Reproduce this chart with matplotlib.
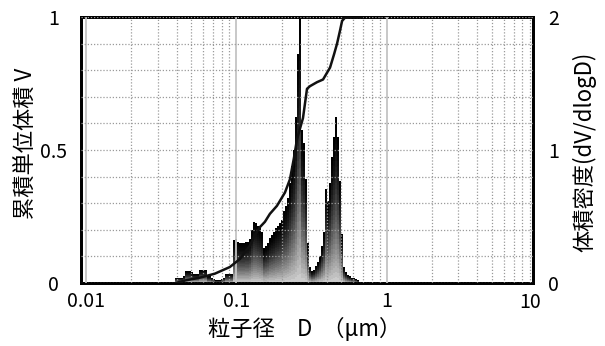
import numpy as np
import matplotlib
matplotlib.use("Agg")
import matplotlib.pyplot as plt
from matplotlib.ticker import FixedLocator, NullFormatter, LogLocator

plt.rcParams['font.family'] = ['Noto Sans CJK JP', 'DejaVu Sans']

# ---------------- data ----------------
# volume density histogram (dV/dlogD), log-spaced bins (75 bins per decade)
bin_start_um = 0.0389
bins_per_decade = 75
density = [0.04, 0.04, 0.04, 0.04, 0.05, 0.09, 0.09, 0.09, 0.08, 0.07,
           0.07, 0.07, 0.10, 0.10, 0.10, 0.10, 0.05, 0.05, 0.04, 0.03,
           0.02, 0.02, 0.02, 0.03, 0.04, 0.07, 0.07, 0.07, 0.07, 0.32,
           0.33, 0.31, 0.30, 0.30, 0.30, 0.31, 0.31, 0.33, 0.40, 0.46,
           0.45, 0.43, 0.41, 0.38, 0.26, 0.28, 0.30, 0.34, 0.36, 0.38,
           0.41, 0.43, 0.45, 0.47, 0.54, 0.58, 0.64, 0.75, 0.88, 1.00,
           1.25, 1.72, 2.00, 1.15, 1.05, 0.78, 0.30, 0.12, 0.09, 0.10,
           0.13, 0.16, 0.20, 0.28, 0.38, 0.71, 0.62, 0.75, 0.95, 1.10,
           1.25, 1.10, 0.77, 0.37, 0.12, 0.08, 0.06, 0.05, 0.04, 0.04,
           0.03, 0.02, 0.01]

# cumulative volume curve
cum_d = [0.0395, 0.0461, 0.0571, 0.0719, 0.0905, 0.1055, 0.1230, 0.1328,
         0.1434, 0.1549, 0.1672, 0.1862, 0.2105, 0.2273, 0.2416, 0.2531,
         0.2650, 0.2775, 0.2951, 0.3090, 0.3440, 0.3773, 0.4201, 0.4467,
         0.4677, 0.4898, 0.5050, 0.5288, 0.5710, 0.6866]
cum_v = [0.0, 0.01, 0.02, 0.035, 0.06, 0.09, 0.14, 0.18, 0.21, 0.23,
         0.26, 0.29, 0.34, 0.39, 0.47, 0.54, 0.58, 0.62, 0.73, 0.74,
         0.755, 0.765, 0.81, 0.86, 0.90, 0.95, 0.985, 0.998, 1.0, 1.0]

x_ticks = [0.01, 0.1, 1]
x_ticklabels = ['0.01', '0.1', '1']
x_last_label = '10'
left_ticks = [0, 0.5, 1]
left_ticklabels = ['0', '0.5', '1']
right_ticks = [0, 1, 2]
right_ticklabels = ['0', '1', '2']
xlabel = '粒子径\u3000D  （μm）'
left_label = '累積単位体積 V'
right_label = '体積密度(dV/dlogD)'

# ---------------- figure ----------------
W, H = 605, 346
fig = plt.figure(figsize=(W / 100, H / 100), dpi=100)
L, R, T, B = 81, 533, 17, 283
ax = fig.add_axes([L / W, 1 - B / H, (R - L) / W, (B - T) / H])  # histogram (right scale)
ax2 = ax.twinx()  # cumulative (left scale), drawn on top
ax2.xaxis.set_visible(True)

ax.set_xscale('log')
ax.set_xlim(10 ** (-2 - 5 / 150), 10 ** (1 - 4 / 150))
ax.set_ylim(0, 2)
ax2.set_ylim(0, 1)

# histogram bars with vertical gradient (light at base, black at top)
dens = np.array(density)
n = len(dens)
edges = bin_start_um * 10 ** (np.arange(n + 1) / bins_per_decade)
left_e = edges[:-1]
widths = edges[1:] - edges[:-1]
NLEV = 30
for j in range(NLEV):
    t = (j + 0.5) / NLEV
    g = 0.82 * (1 - t) ** 1.7
    ax.bar(left_e, dens / NLEV, width=widths, bottom=dens * j / NLEV,
           align='edge', color=(g, g, g), linewidth=0, antialiased=False,
           zorder=2)

# cumulative line
ax2.plot(cum_d, cum_v, color='#111111', lw=1.8, zorder=5)

# grid on top axes
ax2.yaxis.set_major_locator(FixedLocator(left_ticks))
ax2.yaxis.set_minor_locator(FixedLocator(np.round(np.arange(0.1, 1.0, 0.1), 2)))
ax2.grid(which='major', axis='y', ls=(0, (1, 1.5)), color='#9a9a9a', lw=0.9, zorder=3)
ax2.grid(which='minor', axis='y', ls=(0, (1, 1.5)), color='#9a9a9a', lw=0.9, zorder=3)
ax2.xaxis.set_major_locator(FixedLocator(x_ticks))
ax2.grid(which='major', axis='x', ls='-', color='#c4c4c4', lw=1.3, zorder=3)
ax2.xaxis.set_minor_locator(LogLocator(base=10, subs=np.arange(2, 10)))
ax2.xaxis.set_minor_formatter(NullFormatter())
ax2.grid(which='minor', axis='x', ls=(0, (1, 1.5)), color='#9a9a9a', lw=0.9, zorder=3)
ax2.set_axisbelow(False)
ax2.tick_params(axis='x', which='both', labelbottom=False, labeltop=False,
                bottom=False, top=False)

# y axes placement: left = cumulative, right = density
ax2.yaxis.tick_left()
ax2.yaxis.set_label_position('left')
ax.yaxis.tick_right()
ax.yaxis.set_label_position('right')

ax2.set_yticks(left_ticks)
ax2.set_yticklabels(left_ticklabels)
ax.set_yticks(right_ticks)
ax.set_yticklabels(right_ticklabels)
ax.set_xticks(x_ticks)
ax.set_xticklabels(x_ticklabels)
ax.xaxis.set_minor_formatter(NullFormatter())

for a in (ax, ax2):
    a.tick_params(which='both', length=0, labelsize=14)
    for s in a.spines.values():
        s.set_linewidth(2.0)
        s.set_color('black')

ax2.tick_params(axis='y', pad=20)
for lab in ax2.get_yticklabels():
    lab.set_ha('center')
ax.tick_params(axis='y', pad=15)
for lab in ax.get_yticklabels():
    lab.set_ha('center')
ax.tick_params(axis='x', pad=6)

ax.text((530 - L) / (R - L), -(302 - B) / (B - T), x_last_label, transform=ax.transAxes,
        ha='center', va='center', fontsize=14)

ax.set_xlabel(xlabel, fontsize=16)
ax.xaxis.set_label_coords((305 - L) / (R - L), (B - 329) / (B - T))
ax.xaxis.label.set_va('center')

ax2.set_ylabel(left_label, fontsize=16)
ax2.yaxis.set_label_coords((26 - L) / (R - L), (B - 143) / (B - T))
ax2.yaxis.label.set_va('center')

ax.set_ylabel(right_label, fontsize=16)
ax.yaxis.set_label_coords((584 - L) / (R - L), (B - 152) / (B - T))
ax.yaxis.label.set_va('center')
ax.yaxis.label.set_rotation(90)

fig.savefig('out.png', dpi=100)
